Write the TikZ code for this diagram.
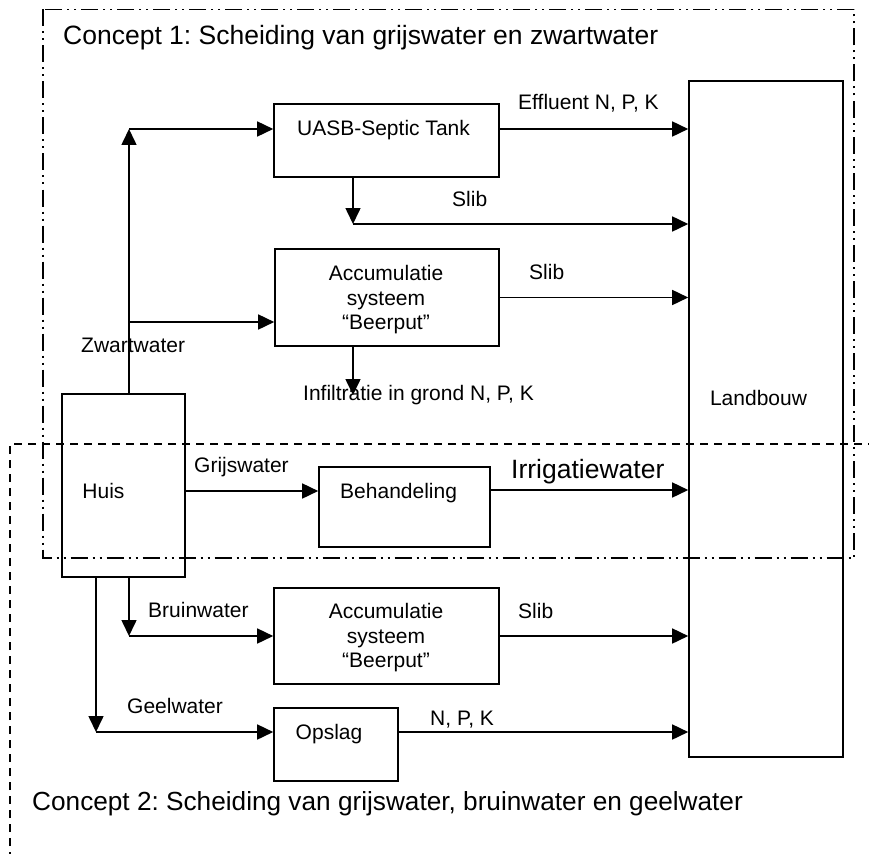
\documentclass[tikz,border=0pt]{standalone}
\usepackage{fontspec}
\setmainfont{Liberation Sans}
\usetikzlibrary{arrows.meta}
\frenchspacing
\begin{document}
\begin{tikzpicture}[x=1pt,y=-1pt,
  box/.style={draw, line width=1.6pt, inner sep=0pt},
  lbl/.style={font=\fontsize{21}{24.5}\selectfont, inner sep=0pt, text height=15pt, text depth=0pt, anchor=west},
  ctr/.style={font=\fontsize{21}{24.5}\selectfont, inner sep=0pt, text height=15pt, text depth=0pt},
  ml/.style={font=\fontsize{21}{24.5}\selectfont, inner sep=0pt, align=center},
  big/.style={font=\fontsize{26.5}{30}\selectfont, inner sep=0pt, text height=19pt, text depth=0pt, anchor=west},
  arr/.style={line width=1.6pt, -{Triangle[length=16pt,width=15pt]}},
  frameone/.style={line width=1.4pt, dash pattern=on 17pt off 5pt on 2pt off 5pt on 2pt off 5pt},
  frametwo/.style={line width=1.4pt, dash pattern=on 8pt off 6pt}]
\useasboundingbox (0,0) rectangle (869,853);

% concept frames
\draw[frameone] (43,9.5) rectangle (854,558);
\draw[frametwo] (10,860) -- (10,444) -- (875,444);

% boxes
\node[box, minimum width=225pt, minimum height=73pt] (uasb) at (386.5,140.5) {};
\node[box, minimum width=224pt, minimum height=97pt] (acc1) at (387,297.5) {};
\node[box, minimum width=123pt, minimum height=183pt] (huis) at (123.5,485.5) {};
\node[box, minimum width=171pt, minimum height=80pt] (beh) at (404.5,507) {};
\node[box, minimum width=225pt, minimum height=96pt] (acc2) at (386.5,636) {};
\node[box, minimum width=124pt, minimum height=73pt] (opslag) at (336,744.5) {};
\node[box, minimum width=154pt, minimum height=676pt] (land) at (766,419) {};

% box texts
\node[ctr] (tUasb) at (383.5,128) {UASB-Septic Tank};
\node[ml] (tAcc1) at (386,300) {Accumulatie\\systeem\\“Beerput”};
\node[ctr] (tHuis) at (103.5,491) {Huis};
\node[ctr] (tBeh) at (398.6,491) {Behandeling};
\node[ml] (tAcc2) at (386,638) {Accumulatie\\systeem\\“Beerput”};
\node[ctr] (tOps) at (329,732) {Opslag};
\node[ctr] (tLand) at (758.5,398) {Landbouw};

% titles
\node[big] (c1) at (63,35) {Concept 1: Scheiding van grijswater en zwartwater};
\node[big, font=\fontsize{26.2}{30}\selectfont] (c2) at (32,801) {Concept 2: Scheiding van grijswater, bruinwater en geelwater};

% labels
\node[lbl] (lEff) at (518,102) {Effluent N, P, K};
\node[lbl] (lSlib1) at (452,199) {Slib};
\node[lbl] (lSlib2) at (529,272) {Slib};
\node[lbl] (lZwart) at (81,345) {Zwartwater};
\node[lbl] (lInf) at (303,393) {Infiltratie in grond N, P, K};
\node[lbl] (lGrijs) at (194,465) {Grijswater};
\node[big] (lIrr) at (511,469) {Irrigatiewater};
\node[lbl] (lBruin) at (148,610) {Bruinwater};
\node[lbl] (lSlib3) at (518,611) {Slib};
\node[lbl] (lGeel) at (127,706) {Geelwater};
\node[lbl] (lNPK) at (430,718) {N, P, K};

% junction coordinates
\coordinate (zTop) at (129,129);
\coordinate (zMid) at (129,322);
\coordinate (sU) at (353,224);
\coordinate (inf) at (353,395);
\coordinate (gr) at (185,491);
\coordinate (irr) at (490,490);
\coordinate (gBr) at (129,636);
\coordinate (gGe) at (96,732);

% connectors
\draw[arr] (zTop |- huis.north) -- (zTop);
\draw[arr] (zTop) -- (zTop -| uasb.west);
\draw[arr] (zMid) -- (zMid -| acc1.west);
\draw[arr] (zTop -| uasb.east) -- (zTop -| land.west);
\draw[arr] (sU |- uasb.south) -- (sU);
\draw[arr] (sU) -- (sU -| land.west);
\draw[arr] (acc1.east) -- (acc1.east -| land.west);
\draw[arr] (inf |- acc1.south) -- (inf);
\draw[arr] (gr -| huis.east) -- (gr -| beh.west);
\draw[arr] (irr -| beh.east) -- (irr -| land.west);
\draw[arr] (gBr |- huis.south) -- (gBr);
\draw[arr] (gBr) -- (gBr -| acc2.west);
\draw[arr] (acc2.east) -- (acc2.east -| land.west);
\draw[arr] (gGe |- huis.south) -- (gGe);
\draw[arr] (gGe) -- (gGe -| opslag.west);
\draw[arr] (gGe -| opslag.east) -- (gGe -| land.west);
\end{tikzpicture}
\end{document}
